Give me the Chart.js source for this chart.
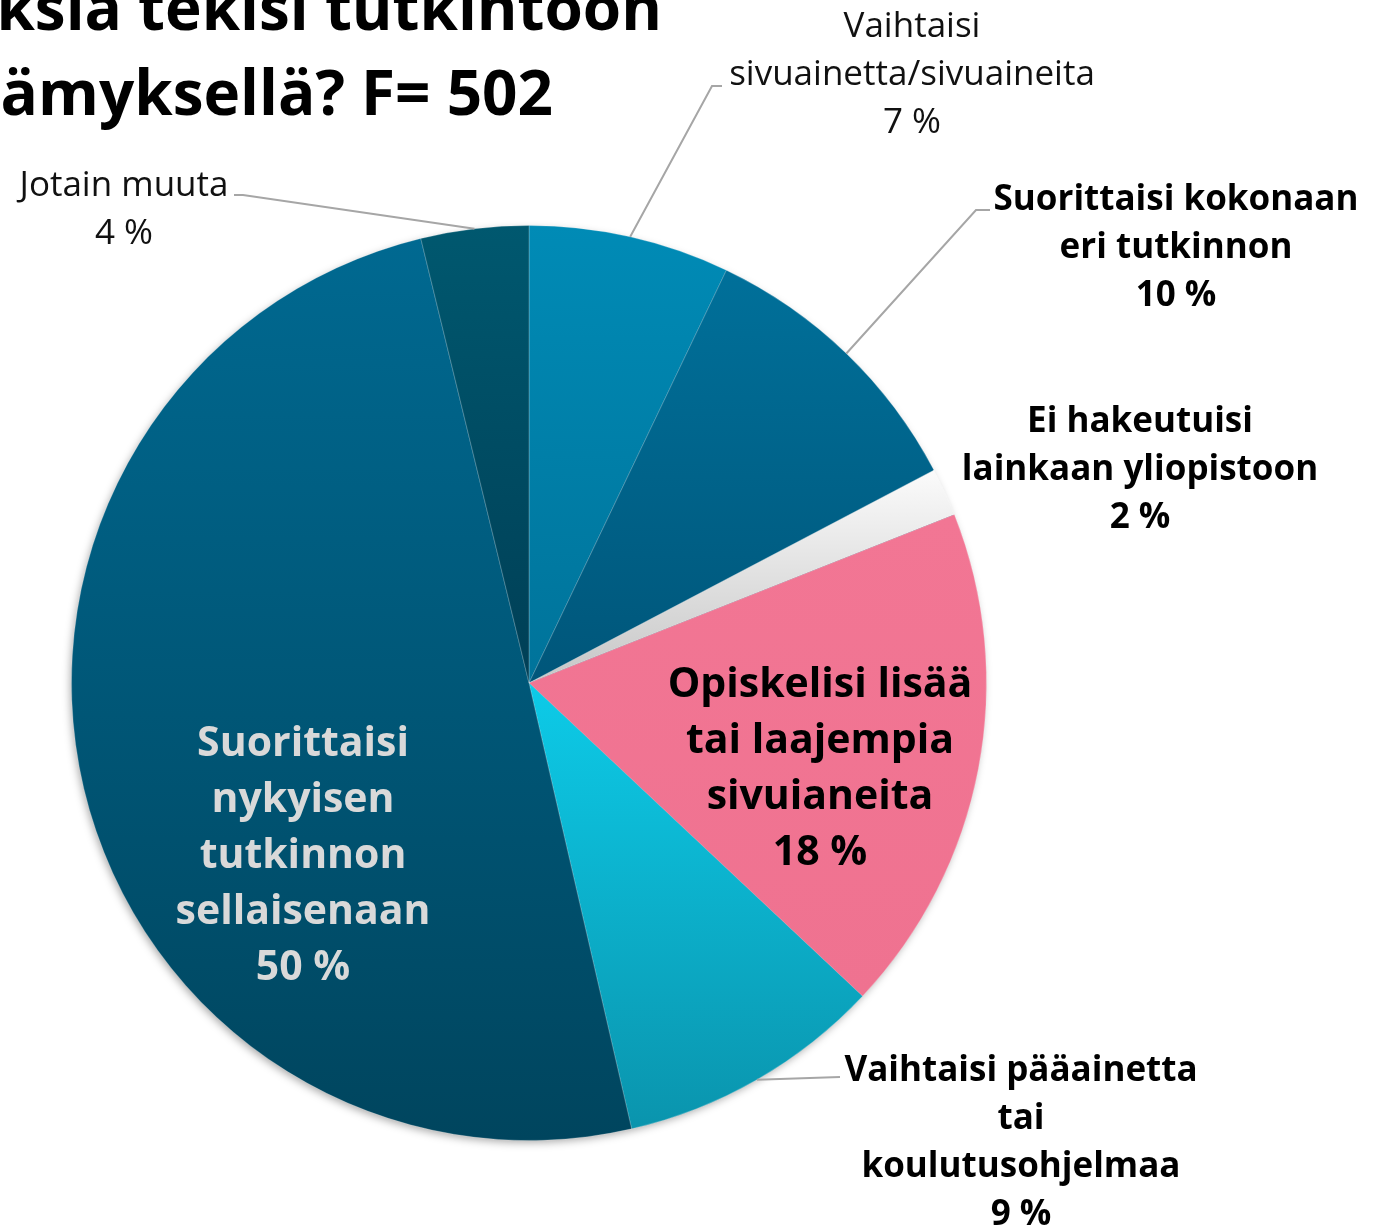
<!DOCTYPE html>
<html>
<head>
<meta charset="utf-8">
<script src="https://cdn.jsdelivr.net/npm/chart.js@4.4.1/dist/chart.umd.min.js"></script>
<style>
    html, body { margin: 0; padding: 0; background: #fff; }
    #wrap { width: 1373px; height: 1228px; }
</style>
</head>
<body>
<div id="wrap"><canvas id="chart"></canvas></div>
<script>
const categories = [
    'Vaihtaisi sivuainetta/sivuaineita',
    'Suorittaisi kokonaan eri tutkinnon',
    'Ei hakeutuisi lainkaan yliopistoon',
    'Opiskelisi lisää tai laajempia sivuaineita',
    'Vaihtaisi pääainetta tai koulutusohjelmaa',
    'Suorittaisi nykyisen tutkinnon sellaisenaan',
    'Jotain muuta',
];
// shares; labels show them rounded
const shares = [7.1, 10.2, 1.7, 18.0, 9.4, 49.8, 3.8];
const labelLines = [
    ['Vaihtaisi', 'sivuainetta/sivuaineita'],
    ['Suorittaisi kokonaan', 'eri tutkinnon'],
    ['Ei hakeutuisi', 'lainkaan yliopistoon'],
    ['Opiskelisi lisää', 'tai laajempia', 'sivuianeita'],
    ['Vaihtaisi pääainetta', 'tai', 'koulutusohjelmaa'],
    ['Suorittaisi', 'nykyisen', 'tutkinnon', 'sellaisenaan'],
    ['Jotain muuta'],
];
const titleLines = ['ksia tekisi tutkintoon', 'ämyksellä? F= 502'];

// top / bottom colour of each slice's vertical gradient
const topColors = ['#008bb6', '#00709a', '#fbfbfb', '#f27694', '#0dcbe8', '#006991', '#00586f'];
const bottomColors = ['#00739a', '#00567a', '#c6c6c6', '#ef7290', '#0a94ad', '#00455e', '#003f56'];

// label placement (centre x, first line y, line step)
const labelLayout = [
    { x: 912, y: 27, step: 48, bold: false, size: 35, color: '#111' },
    { x: 1176, y: 200, step: 48, bold: true, size: 35, color: '#000' },
    { x: 1140, y: 422, step: 48, bold: true, size: 35, color: '#000' },
    { x: 820, y: 685, step: 56, bold: true, size: 41, color: '#000' },
    { x: 1021, y: 1071, step: 48, bold: true, size: 35, color: '#000' },
    { x: 303, y: 744, step: 56, bold: true, size: 41, color: '#d9d9d9' },
    { x: 124, y: 186, step: 48, bold: false, size: 35, color: '#111' },
];
const leaders = [
    { elbow: [712, 86], end: [722, 86] },
    { elbow: [976, 210], end: [990, 210] },
    null,
    null,
    { elbow: null, end: [840, 1077] },
    null,
    { elbow: [243, 195], end: [234, 195] },
];

const total = shares.reduce((a, b) => a + b, 0);

function sliceGradient(context) {
    const i = context.dataIndex;
    const chart = context.chart;
    const area = chart.chartArea;
    if (!area) {
        return topColors[i];
    }
    const cx = (area.left + area.right) / 2;
    const cy = (area.top + area.bottom) / 2;
    const r = Math.min(area.right - area.left, area.bottom - area.top) / 2;
    const before = shares.slice(0, i).reduce((a, b) => a + b, 0);
    const a0 = -Math.PI / 2 + before / total * Math.PI * 2;
    const a1 = a0 + shares[i] / total * Math.PI * 2;
    let minY = cy;
    let maxY = cy;
    for (let k = 0; k <= 60; k++) {
        const y = cy + r * Math.sin(a0 + (a1 - a0) * k / 60);
        minY = Math.min(minY, y);
        maxY = Math.max(maxY, y);
    }
    const g = chart.ctx.createLinearGradient(0, minY, 0, maxY);
    g.addColorStop(0, topColors[i]);
    g.addColorStop(1, bottomColors[i]);
    return g;
}

const pieShadow = {
    id: 'pieShadow',
    beforeDatasetsDraw(chart) {
        const arc = chart.getDatasetMeta(0).data[0];
        if (!arc) {
            return;
        }
        const { x, y, outerRadius } = arc.getProps(['x', 'y', 'outerRadius'], true);
        const ctx = chart.ctx;
        ctx.save();
        ctx.shadowColor = 'rgba(0, 0, 0, 0.35)';
        ctx.shadowBlur = 9;
        ctx.shadowOffsetX = -2;
        ctx.shadowOffsetY = 3;
        ctx.fillStyle = '#005070';
        ctx.beginPath();
        ctx.arc(x, y, outerRadius - 1, 0, Math.PI * 2);
        ctx.fill();
        ctx.restore();
    },
};

const pieLabels = {
    id: 'pieLabels',
    afterDatasetsDraw(chart) {
        const ctx = chart.ctx;
        const meta = chart.getDatasetMeta(0);
        ctx.save();

        // leader lines
        ctx.strokeStyle = '#a6a6a6';
        ctx.lineWidth = 2;
        meta.data.forEach((arc, i) => {
            const leader = leaders[i];
            if (!leader) {
                return;
            }
            const p = arc.getProps(['x', 'y', 'startAngle', 'endAngle', 'outerRadius'], true);
            const mid = (p.startAngle + p.endAngle) / 2;
            ctx.beginPath();
            ctx.moveTo(p.x + Math.cos(mid) * p.outerRadius, p.y + Math.sin(mid) * p.outerRadius);
            if (leader.elbow) {
                ctx.lineTo(leader.elbow[0], leader.elbow[1]);
            }
            ctx.lineTo(leader.end[0], leader.end[1]);
            ctx.stroke();
        });

        // label texts
        ctx.textAlign = 'center';
        ctx.textBaseline = 'middle';
        labelLines.forEach((lines, i) => {
            const lay = labelLayout[i];
            const all = lines.concat([Math.round(shares[i]) + ' %']);
            ctx.font = (lay.bold ? 'bold ' : '') + lay.size + 'px "Open Sans"';
            ctx.fillStyle = lay.color;
            all.forEach((line, k) => {
                ctx.fillText(line, lay.x, lay.y + k * lay.step);
            });
        });

        // title, cut by the canvas edge as in the source
        ctx.font = 'bold 62px "Open Sans"';
        ctx.fillStyle = '#000';
        ctx.textAlign = 'right';
        ctx.textBaseline = 'alphabetic';
        ctx.fillText(titleLines[0], 662, 30);
        ctx.fillText(titleLines[1], 553, 115);
        ctx.restore();
    },
};

new Chart(document.getElementById('chart'), {
    type: 'pie',
    data: {
        labels: categories,
        datasets: [
            {
                data: shares,
                backgroundColor: sliceGradient,
                borderColor: 'rgba(255, 255, 255, 0.22)',
                borderWidth: 1,
            },
        ],
    },
    options: {
        responsive: true,
        maintainAspectRatio: false,
        animation: false,
        layout: {
            padding: { left: 71, right: 386, top: 225, bottom: 87 },
        },
        plugins: {
            legend: { display: false },
            tooltip: { enabled: false },
        },
    },
    plugins: [pieShadow, pieLabels],
});
</script>
</body>
</html>
